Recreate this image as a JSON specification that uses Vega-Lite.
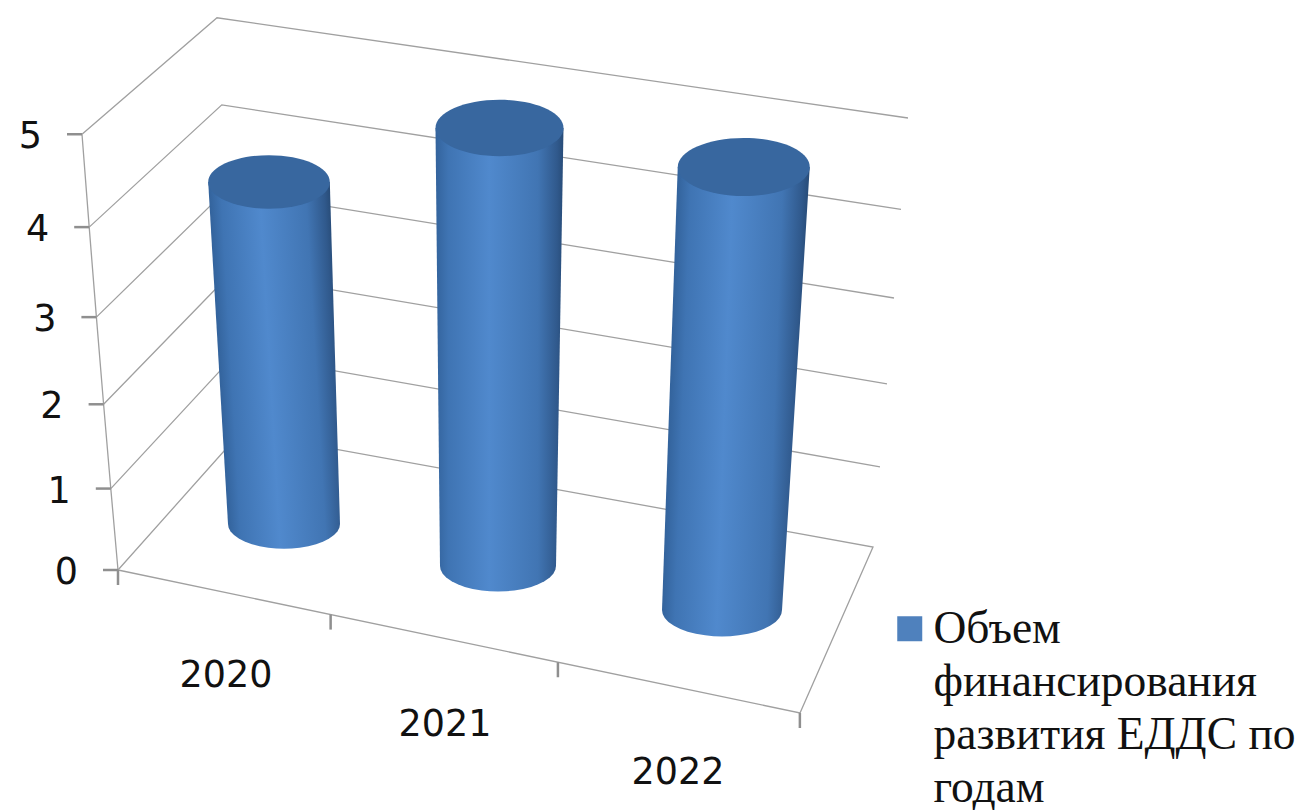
{
"$schema":"https://vega.github.io/schema/vega-lite/v6.json",
"width":1304,"height":810,"padding":0,"autosize":{"type":"none"},"background":"white",
"config":{"view":{"stroke":null},"font":"DejaVu Sans"},
"datasets":{
"cyl":[{"year":2020,"base":0,"value":4,"series":"Объем|финансирования|развития ЕДДС по|годам"},{"year":2021,"base":0,"value":5,"series":"Объем|финансирования|развития ЕДДС по|годам"},{"year":2022,"base":0,"value":5,"series":"Объем|финансирования|развития ЕДДС по|годам"}],
"levels":[{"level":0},{"level":1},{"level":2},{"level":3},{"level":4},{"level":5}],
"slots":[{"slot":0},{"slot":1},{"slot":2},{"slot":3}],
"frame":[
{"line":"v1","level":1,"corner":"fl","step":0},{"line":"v1","level":1,"corner":"bl","step":1},{"line":"v1","level":1,"corner":"br","step":2},
{"line":"v2","level":2,"corner":"fl","step":0},{"line":"v2","level":2,"corner":"bl","step":1},{"line":"v2","level":2,"corner":"br","step":2},
{"line":"v3","level":3,"corner":"fl","step":0},{"line":"v3","level":3,"corner":"bl","step":1},{"line":"v3","level":3,"corner":"br","step":2},
{"line":"v4","level":4,"corner":"fl","step":0},{"line":"v4","level":4,"corner":"bl","step":1},{"line":"v4","level":4,"corner":"br","step":2},
{"line":"v5","level":5,"corner":"fl","step":0},{"line":"v5","level":5,"corner":"bl","step":1},{"line":"v5","level":5,"corner":"br","step":2},
{"line":"floor","level":0,"corner":"fl","step":0},{"line":"floor","level":0,"corner":"bl","step":1},{"line":"floor","level":0,"corner":"br","step":2},{"line":"floor","level":0,"corner":"fr","step":3},{"line":"floor","level":0,"corner":"fl","step":4},
{"line":"axis","level":0,"corner":"fl","step":0},{"line":"axis","level":1,"corner":"fl","step":1},{"line":"axis","level":2,"corner":"fl","step":2},{"line":"axis","level":3,"corner":"fl","step":3},{"line":"axis","level":4,"corner":"fl","step":4},{"line":"axis","level":5,"corner":"fl","step":5}
]},
"layer":[
{"data":{"name":"frame"},
 "transform":[
 {"calculate":"datum.corner=='fl'?118-7.2*datum.level:datum.corner=='bl'?241-4.8*datum.level:datum.corner=='br'?873+7*datum.level:800","as":"px"},
 {"calculate":"datum.corner=='fl'?570-80*datum.level-1.43*datum.level*datum.level:datum.corner=='bl'?432-77.5*datum.level-1.07*datum.level*datum.level:datum.corner=='br'?547-78.8*datum.level-1.4*datum.level*datum.level:713","as":"py"}],
 "mark":{"type":"line","color":"#a0a0a0","strokeWidth":1.3,"interpolate":"linear"},
 "encoding":{"x":{"field":"px","type":"quantitative","scale":{"domain":[0,1304],"nice":false,"zero":false},"axis":null},
 "y":{"field":"py","type":"quantitative","scale":{"domain":[810,0],"nice":false,"zero":false},"axis":null},
 "detail":{"field":"line"},"order":{"field":"step","type":"quantitative"}}},
{"data":{"name":"levels"},
 "transform":[
 {"calculate":"118-7.2*datum.level","as":"px"},
 {"calculate":"datum.px-15","as":"tx"},
 {"calculate":"datum.px-40","as":"lx"},
 {"calculate":"570-80*datum.level-1.43*datum.level*datum.level","as":"py"},
 {"calculate":"datum.py+3","as":"ly"}],
 "layer":[
 {"mark":{"type":"rule","color":"#8f8f8f","strokeWidth":2.5},
  "encoding":{"x":{"field":"px","type":"quantitative","scale":{"domain":[0,1304],"nice":false,"zero":false},"axis":null},"x2":{"field":"tx"},
  "y":{"field":"py","type":"quantitative","scale":{"domain":[810,0],"nice":false,"zero":false},"axis":null}}},
 {"mark":{"type":"text","align":"right","baseline":"middle","fontSize":36.5,"font":"DejaVu Sans","color":"#111"},
  "encoding":{"x":{"field":"lx","type":"quantitative","scale":{"domain":[0,1304],"nice":false,"zero":false},"axis":null},
  "y":{"field":"ly","type":"quantitative","scale":{"domain":[810,0],"nice":false,"zero":false},"axis":null},
  "text":{"field":"level","type":"quantitative"}}}
 ]},
{"data":{"name":"slots"},
 "transform":[
 {"calculate":"118+205.3*datum.slot+7.33*datum.slot*datum.slot","as":"px"},
 {"calculate":"570+0.2097*(datum.px-118)","as":"py"},
 {"calculate":"datum.py+15","as":"ty"}],
 "mark":{"type":"rule","color":"#8f8f8f","strokeWidth":2.5},
 "encoding":{"x":{"field":"px","type":"quantitative","scale":{"domain":[0,1304],"nice":false,"zero":false},"axis":null},
 "y":{"field":"py","type":"quantitative","scale":{"domain":[810,0],"nice":false,"zero":false},"axis":null},"y2":{"field":"ty"}}},
{"data":{"name":"cyl"},
 "transform":[
 {"calculate":"0.15","as":"a1"},{"calculate":"0.3","as":"a2"},{"calculate":"0.45","as":"a3"},{"calculate":"0.6","as":"a4"},{"calculate":"0.72","as":"a5"},{"calculate":"0.82","as":"a6"},{"calculate":"0.9","as":"a7"},{"calculate":"0.96","as":"a8"},{"calculate":"0.99","as":"a9"},{"calculate":"1","as":"a10"},
 {"fold":["base","value","a1","a2","a3","a4","a5","a6","a7","a8","a9","a10"],"as":["end","h"]},
 {"calculate":"datum.end=='value'?datum.h:0","as":"z"},
 {"calculate":"datum.end=='value'?0:datum.h","as":"f"},
 {"calculate":"datum.year-2020","as":"i"},
 {"calculate":"284+209*datum.i+5*datum.i*datum.i+(-3.75+4.05*datum.i)*datum.z","as":"px"},
 {"calculate":"56+2*datum.i+1.2*datum.z","as":"rx"},
 {"calculate":"524+41*datum.i+datum.i*datum.i-(85.5+2.65*datum.i-0.55*datum.i*datum.i)*datum.z+0.44*datum.rx*datum.f","as":"py"},
 {"calculate":"datum.px-datum.rx*sqrt(1-datum.f*datum.f)","as":"xl"},
 {"calculate":"datum.px+datum.rx*sqrt(1-datum.f*datum.f)","as":"xr"},
 {"calculate":"4*datum.rx*datum.rx","as":"sz"}],
 "layer":[
 {"transform":[{"filter":"datum.year==2020"}],
  "mark":{"type":"area","orient":"horizontal","fill":{"gradient":"linear","x1":0,"y1":0,"x2":0.897,"y2":-0.144,"stops":[{"offset":0,"color":"#33639c"},{"offset":0.1,"color":"#3f74b3"},{"offset":0.42,"color":"#5089cd"},{"offset":0.8,"color":"#4175b3"},{"offset":0.95,"color":"#30598c"},{"offset":1,"color":"#284c78"}]}},
  "encoding":{"y":{"field":"py","type":"quantitative","scale":{"domain":[810,0],"nice":false,"zero":false},"axis":null},
  "x":{"field":"xl","type":"quantitative","scale":{"domain":[0,1304],"nice":false,"zero":false},"axis":null},"x2":{"field":"xr"}}},
 {"transform":[{"filter":"datum.year==2021"}],
  "mark":{"type":"area","orient":"horizontal","fill":{"gradient":"linear","x1":0,"y1":0,"x2":1,"y2":0,"stops":[{"offset":0,"color":"#33639c"},{"offset":0.1,"color":"#3f74b3"},{"offset":0.42,"color":"#5089cd"},{"offset":0.8,"color":"#4175b3"},{"offset":0.95,"color":"#30598c"},{"offset":1,"color":"#284c78"}]}},
  "encoding":{"y":{"field":"py","type":"quantitative","scale":{"domain":[810,0],"nice":false,"zero":false},"axis":null},
  "x":{"field":"xl","type":"quantitative","scale":{"domain":[0,1304],"nice":false,"zero":false},"axis":null},"x2":{"field":"xr"}}},
 {"transform":[{"filter":"datum.year==2022"}],
  "mark":{"type":"area","orient":"horizontal","fill":{"gradient":"linear","x1":0.108,"y1":0,"x2":0.988,"y2":0.101,"stops":[{"offset":0,"color":"#33639c"},{"offset":0.1,"color":"#3f74b3"},{"offset":0.42,"color":"#5089cd"},{"offset":0.8,"color":"#4175b3"},{"offset":0.95,"color":"#30598c"},{"offset":1,"color":"#284c78"}]}},
  "encoding":{"y":{"field":"py","type":"quantitative","scale":{"domain":[810,0],"nice":false,"zero":false},"axis":null},
  "x":{"field":"xl","type":"quantitative","scale":{"domain":[0,1304],"nice":false,"zero":false},"axis":null},"x2":{"field":"xr"}}},
 {"transform":[{"filter":"datum.end=='value'"}],
  "mark":{"type":"point","filled":true,"opacity":1,"fill":"#38679f","shape":"M-1,0A1,0.44 0 1,1 1,0A1,0.44 0 1,1 -1,0Z"},
  "encoding":{"x":{"field":"px","type":"quantitative","scale":{"domain":[0,1304],"nice":false,"zero":false},"axis":null},
  "y":{"field":"py","type":"quantitative","scale":{"domain":[810,0],"nice":false,"zero":false},"axis":null},
  "size":{"field":"sz","type":"quantitative","scale":null}}}
 ]},
{"data":{"name":"cyl"},
 "transform":[
 {"calculate":"datum.year-2020","as":"i"},
 {"calculate":"226+212*datum.i+7*datum.i*datum.i","as":"px"},
 {"calculate":"676+48.5*datum.i","as":"py"}],
 "layer":[
 {"mark":{"type":"text","align":"center","baseline":"middle","fontSize":36.5,"font":"DejaVu Sans","color":"#111"},
 "encoding":{"x":{"field":"px","type":"quantitative","scale":{"domain":[0,1304],"nice":false,"zero":false},"axis":null},
 "y":{"field":"py","type":"quantitative","scale":{"domain":[810,0],"nice":false,"zero":false},"axis":null},
 "text":{"field":"year","type":"nominal"}}},
 {"mark":{"type":"point","filled":true,"opacity":0},
 "encoding":{"x":{"field":"px","type":"quantitative","scale":{"domain":[0,1304],"nice":false,"zero":false},"axis":null},
 "y":{"field":"py","type":"quantitative","scale":{"domain":[810,0],"nice":false,"zero":false},"axis":null},
 "color":{"field":"series","type":"nominal","scale":{"range":["#4f81bd"]},
  "legend":{"orient":"none","legendX":887,"legendY":606,"title":null,"symbolType":"square","symbolSize":625,"symbolOpacity":1,"labelFont":"Liberation Serif","labelFontSize":45.5,"labelColor":"#111","labelLimit":500,"labelOffset":1,"labelExpr":"split(datum.label,'|')","encode":{"labels":{"update":{"lineHeight":{"value":53}}}}}}}}
 ]}
]
}
